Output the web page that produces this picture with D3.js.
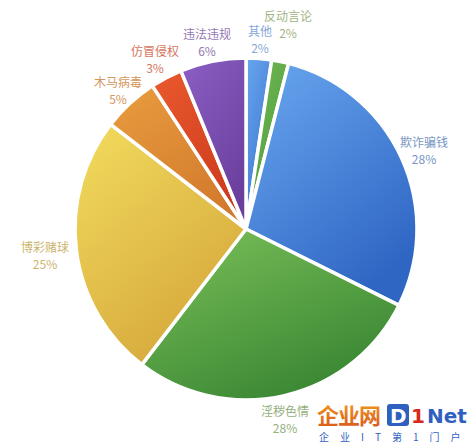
<!DOCTYPE html>
<html>
<head>
<meta charset="utf-8">
<script src="https://cdn.jsdelivr.net/npm/d3@7"></script>
<style>
  body { margin: 0; background: #fff; }
  svg { display: block; font-family: "Noto Sans CJK SC", "Noto Sans", sans-serif; }
</style>
</head>
<body>
<div id="chart"></div>
<script>
// data (percent share, clockwise from 12 o'clock)
const categories = ["其他", "反动言论", "欺诈骗钱", "淫秽色情", "博彩赌球", "木马病毒", "仿冒侵权", "违法违规"];
const values = [2.4, 1.6, 28.3, 28, 25, 5.3, 3, 6.2];
const pct_labels = ["2%", "2%", "28%", "28%", "25%", "5%", "3%", "6%"];

// slice gradient colours (light, dark) and label colours
const light = ["#68a6ee", "#74bb55", "#6aa8f0", "#7cc15a", "#f2dc5e", "#e99d3f", "#ea5a2e", "#8b5fc4"];
const dark  = ["#3d74d0", "#4e9a3c", "#2f66c4", "#3a8733", "#d6a83c", "#d27a2c", "#cc3a1c", "#6a3f9c"];
const label_col = ["#86a8d8", "#a2b585", "#7896c4", "#95b080", "#cbb56c", "#d5975c", "#d57660", "#9379b2"];

// label text centers
const label_pos = [[260, 32], [288, 17], [424, 143], [285, 412], [45, 248], [118, 83], [155, 52], [207, 35]];

const width = 476, height = 446;
const cx = 246, cy = 229, radius = 171;

const svg = d3.select("#chart").append("svg")
  .attr("width", width)
  .attr("height", height);

const defs = svg.append("defs");
categories.forEach((c, i) => {
  const g = defs.append("linearGradient")
    .attr("id", "grad" + i)
    .attr("x1", "0%").attr("y1", "0%")
    .attr("x2", "60%").attr("y2", "100%");
  g.append("stop").attr("offset", "0%").attr("stop-color", light[i]);
  g.append("stop").attr("offset", "100%").attr("stop-color", dark[i]);
});

const pie = d3.pie().sort(null).value(d => d);
const arcs = pie(values);
const arc = d3.arc().innerRadius(0).outerRadius(radius);

svg.append("g")
  .attr("transform", "translate(" + cx + "," + cy + ")")
  .selectAll("path")
  .data(arcs)
  .enter()
  .append("path")
  .attr("d", arc)
  .attr("fill", (d, i) => "url(#grad" + i + ")")
  .attr("stroke", "white")
  .attr("stroke-width", 3.5)
  .attr("stroke-linejoin", "round");

const labels = svg.append("g")
  .selectAll("g")
  .data(arcs)
  .enter()
  .append("g")
  .attr("transform", (d, i) => "translate(" + label_pos[i][0] + "," + label_pos[i][1] + ")")
  .attr("fill", (d, i) => label_col[i])
  .attr("text-anchor", "middle")
  .attr("font-size", 12);

labels.append("text")
  .attr("dy", "0.35em")
  .text((d, i) => categories[i]);

labels.append("text")
  .attr("y", 17)
  .attr("dy", "0.35em")
  .text((d, i) => pct_labels[i]);

// watermark
const wm = svg.append("g").attr("transform", "translate(317,424)");
const wg = defs.append("linearGradient").attr("id", "wmgrad")
  .attr("x1", "0").attr("y1", "0").attr("x2", "0").attr("y2", "1");
wg.append("stop").attr("offset", "0%").attr("stop-color", "#f4a21c");
wg.append("stop").attr("offset", "100%").attr("stop-color", "#d8541a");
wm.append("text")
  .attr("x", 0).attr("y", 0)
  .attr("font-size", 22).attr("font-weight", "bold")
  .attr("fill", "url(#wmgrad)")
  .attr("letter-spacing", -1)
  .text("企业网");
wm.append("rect")
  .attr("x", 70).attr("y", -20).attr("width", 22).attr("height", 22)
  .attr("rx", 3).attr("fill", "#2f5fbf");
wm.append("text")
  .attr("x", 73).attr("y", -1)
  .attr("font-size", 20).attr("font-weight", "bold")
  .attr("font-family", "DejaVu Sans, sans-serif")
  .attr("fill", "#fff")
  .text("D");
wm.append("text")
  .attr("x", 94).attr("y", -1)
  .attr("font-size", 20).attr("font-weight", "bold")
  .attr("font-family", "DejaVu Sans, sans-serif")
  .attr("fill", "#d8281c")
  .text("1");
wm.append("text")
  .attr("x", 110).attr("y", -1)
  .attr("font-size", 20).attr("font-weight", "bold")
  .attr("font-family", "DejaVu Sans, sans-serif")
  .attr("fill", "#2f5fbf")
  .text("Net");
wm.append("text")
  .attr("x", 2).attr("y", 17)
  .attr("font-size", 10)
  .attr("fill", "#2f5fbf")
  .attr("letter-spacing", 11)
  .text("企业IT第1门户");
</script>
</body>
</html>
